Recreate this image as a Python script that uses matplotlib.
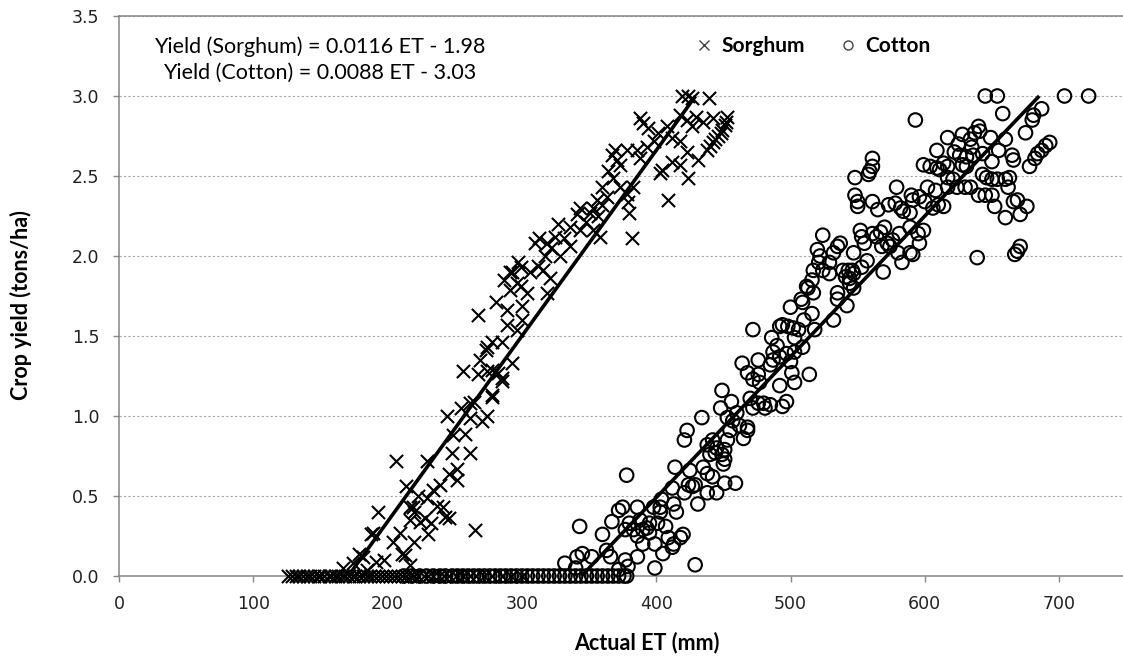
import numpy as np
import matplotlib
matplotlib.use('Agg')
import matplotlib.pyplot as plt
from matplotlib.lines import Line2D

# ---- data ----
# ET (mm) of sorghum plots with zero yield (dense band along the x axis)
sorghum_zero_et = [126, 129, 132, 134, 137, 140, 142, 145, 148, 150,
                   153, 156, 158, 161, 163, 166, 168, 171, 174, 176,
                   179, 182, 185, 187, 190, 193, 196, 199, 202, 205,
                   208, 211, 214, 217, 220, 223, 227, 230, 234, 238,
                   242, 246, 251, 256, 261, 266, 272, 278, 285, 292, 300]

sorghum_et = [206, 193, 214, 189, 209, 204, 211, 197, 179, 174,
              167, 219, 217, 188, 229, 244, 255, 264, 278, 274,
              270, 285, 258, 248, 261, 252, 246, 252, 239, 234,
              229, 237, 241, 223, 217, 220, 228, 243, 246, 232,
              224, 265, 230, 220, 213, 191, 182, 217, 185, 267,
              297, 291, 287, 296, 281, 289, 300, 289, 296, 278,
              274, 285, 269, 256, 267, 274, 282, 285, 293, 278,
              261, 261, 249, 419, 424, 427, 439, 418, 423, 430,
              435, 442, 427, 438, 440, 442, 444, 446, 448, 449,
              451, 452, 453, 390, 394, 401, 408, 412, 418, 423,
              431, 424, 418, 412, 404, 409, 403, 382, 380, 379,
              378, 383, 388, 386, 393, 398, 369, 367, 371, 373,
              378, 364, 368, 373, 360, 363, 356, 360, 353, 351,
              357, 343, 341, 348, 343, 353, 358, 336, 327, 331,
              336, 325, 319, 322, 317, 328, 313, 310, 312, 306,
              316, 321, 299, 293, 299, 304, 319, 291, 300, 273,
              278, 388]
sorghum_yield = [0.72, 0.40, 0.56, 0.27, 0.27, 0.21, 0.14, 0.10, 0.14, 0.08,
                 0.05, 0.43, 0.35, 0.26, 0.72, 1.00, 1.05, 1.09, 1.13, 1.00,
                 0.97, 1.22, 0.89, 0.77, 0.77, 0.67, 0.64, 0.60, 0.57, 0.54,
                 0.49, 0.44, 0.43, 0.50, 0.43, 0.40, 0.36, 0.37, 0.36, 0.33,
                 0.34, 0.29, 0.26, 0.21, 0.13, 0.09, 0.12, 0.07, 0.04, 1.63,
                 1.96, 1.90, 1.85, 1.83, 1.71, 1.66, 1.69, 1.57, 1.54, 1.46,
                 1.43, 1.46, 1.35, 1.28, 1.26, 1.28, 1.27, 1.24, 1.33, 1.12,
                 1.08, 0.99, 0.88, 3.00, 3.00, 2.99, 2.99, 2.88, 2.85, 2.87,
                 2.84, 2.86, 2.81, 2.66, 2.69, 2.71, 2.73, 2.75, 2.77, 2.79,
                 2.82, 2.84, 2.87, 2.83, 2.80, 2.77, 2.81, 2.74, 2.72, 2.65,
                 2.60, 2.49, 2.57, 2.59, 2.54, 2.35, 2.52, 2.11, 2.27, 2.34,
                 2.39, 2.43, 2.61, 2.66, 2.68, 2.72, 2.66, 2.63, 2.60, 2.57,
                 2.66, 2.53, 2.49, 2.43, 2.43, 2.37, 2.35, 2.32, 2.30, 2.27,
                 2.25, 2.30, 2.26, 2.21, 2.16, 2.16, 2.12, 2.18, 2.20, 2.11,
                 2.06, 2.12, 2.08, 2.05, 2.00, 2.00, 2.11, 2.08, 1.94, 1.90,
                 1.91, 1.86, 1.93, 1.90, 1.81, 1.77, 1.77, 1.79, 1.60, 1.41,
                 1.29, 2.86]

# ET (mm) of cotton plots with zero yield
cotton_zero_et = [212, 218, 224, 229, 234, 239, 243, 248, 252, 256,
                  260, 264, 268, 272, 276, 280, 284, 288, 292, 296,
                  300, 304, 308, 312, 316, 320, 324, 328, 332, 336,
                  340, 344, 348, 352, 356, 360, 364, 368, 372, 376, 378]

cotton_et = [645, 654, 704, 722, 593, 658, 687, 681, 680, 675,
             693, 690, 687, 684, 682, 678, 665, 666, 660, 655,
             649, 640, 641, 637, 634, 635, 628, 625, 617, 609,
             622, 626, 631, 636, 643, 650, 631, 628, 599, 604,
             609, 614, 617, 611, 561, 561, 559, 558, 548, 617,
             621, 643, 646, 650, 654, 660, 663, 662, 548, 550,
             550, 561, 565, 579, 573, 578, 582, 584, 589, 590,
             591, 596, 600, 606, 610, 614, 602, 608, 617, 624,
             630, 634, 640, 645, 650, 652, 660, 671, 676, 666,
             669, 639, 667, 671, 669, 552, 553, 555, 561, 564,
             567, 570, 572, 568, 574, 576, 580, 583, 589, 591,
             596, 595, 599, 589, 581, 569, 557, 553, 547, 524,
             520, 522, 521, 524, 529, 535, 532, 537, 529, 539,
             543, 546, 541, 544, 547, 517, 516, 512, 513, 517,
             535, 535, 542, 547, 544, 532, 500, 509, 508, 516,
             510, 492, 494, 498, 502, 506, 472, 486, 490, 487,
             503, 509, 503, 497, 492, 518, 500, 514, 378, 343,
             367, 360, 372, 375, 386, 332, 341, 345, 352, 340,
             363, 366, 377, 379, 386, 399, 429, 372, 377, 380,
             388, 390, 386, 395, 399, 403, 401, 393, 407, 409,
             413, 418, 420, 405, 412, 390, 383, 395, 398, 403,
             413, 415, 404, 412, 431, 421, 427, 429, 424, 438,
             445, 451, 459, 414, 425, 435, 438, 442, 440, 444,
             450, 451, 421, 423, 434, 438, 445, 442, 451, 449,
             448, 449, 456, 453, 457, 462, 468, 465, 455, 453,
             460, 468, 470, 476, 472, 480, 481, 485, 494, 497,
             464, 468, 472, 476, 477, 476, 485, 487, 492, 501, 503]
cotton_yield = [3.00, 3.00, 3.00, 3.00, 2.85, 2.89, 2.92, 2.88, 2.85, 2.77,
                2.71, 2.69, 2.66, 2.64, 2.61, 2.56, 2.63, 2.60, 2.73, 2.66,
                2.74, 2.81, 2.78, 2.77, 2.73, 2.68, 2.76, 2.70, 2.74, 2.66,
                2.65, 2.63, 2.62, 2.63, 2.64, 2.59, 2.56, 2.57, 2.57, 2.56,
                2.55, 2.58, 2.56, 2.54, 2.61, 2.56, 2.53, 2.51, 2.49, 2.49,
                2.48, 2.51, 2.49, 2.48, 2.48, 2.48, 2.49, 2.43, 2.38, 2.34,
                2.31, 2.34, 2.29, 2.43, 2.32, 2.33, 2.30, 2.28, 2.27, 2.38,
                2.35, 2.37, 2.34, 2.30, 2.32, 2.31, 2.43, 2.41, 2.43, 2.43,
                2.43, 2.43, 2.38, 2.38, 2.38, 2.31, 2.24, 2.26, 2.31, 2.34,
                2.35, 1.99, 2.01, 2.06, 2.03, 2.16, 2.12, 2.08, 2.14, 2.12,
                2.15, 2.18, 2.08, 2.06, 2.06, 2.10, 2.02, 1.96, 2.02, 2.01,
                2.08, 2.14, 2.16, 2.18, 2.14, 1.90, 1.97, 1.93, 2.02, 2.13,
                2.04, 2.00, 1.96, 1.91, 1.89, 2.06, 2.02, 2.08, 1.96, 1.91,
                1.91, 1.91, 1.87, 1.86, 1.89, 1.91, 1.85, 1.81, 1.80, 1.77,
                1.77, 1.73, 1.69, 1.80, 1.83, 1.60, 1.68, 1.71, 1.73, 1.64,
                1.60, 1.56, 1.57, 1.56, 1.55, 1.54, 1.54, 1.49, 1.44, 1.40,
                1.49, 1.43, 1.40, 1.39, 1.37, 1.54, 1.34, 1.26, 0.63, 0.31,
                0.34, 0.26, 0.41, 0.43, 0.43, 0.08, 0.12, 0.14, 0.12, 0.05,
                0.16, 0.12, 0.10, 0.06, 0.12, 0.05, 0.07, 0.04, 0.29, 0.33,
                0.35, 0.29, 0.25, 0.27, 0.20, 0.40, 0.33, 0.30, 0.31, 0.24,
                0.20, 0.24, 0.26, 0.14, 0.18, 0.20, 0.29, 0.33, 0.43, 0.43,
                0.45, 0.40, 0.48, 0.55, 0.45, 0.52, 0.56, 0.57, 0.57, 0.52,
                0.52, 0.58, 0.58, 0.68, 0.66, 0.68, 0.64, 0.62, 0.76, 0.77,
                0.70, 0.73, 0.85, 0.91, 0.99, 0.82, 0.80, 0.85, 0.79, 0.76,
                1.05, 1.16, 1.09, 0.99, 0.97, 0.94, 0.91, 0.86, 0.91, 0.85,
                1.02, 0.93, 1.11, 1.08, 1.05, 1.08, 1.05, 1.07, 1.06, 1.09,
                1.33, 1.27, 1.23, 1.26, 1.21, 1.35, 1.32, 1.35, 1.19, 1.27, 1.21]

# regression lines: slope, intercept (from the equations on the chart)
sorghum_fit = (0.0116, -1.98)
cotton_fit = (0.0088, -3.03)
fit_yield_range = [0.0, 3.0]

x_ticks = [0, 100, 200, 300, 400, 500, 600, 700]
y_ticks = [0.0, 0.5, 1.0, 1.5, 2.0, 2.5, 3.0, 3.5]

assert len(sorghum_et) == len(sorghum_yield)
assert len(cotton_et) == len(cotton_yield)

# ---- figure ----
W, H = 1123, 657
fig = plt.figure(figsize=(W / 100, H / 100), dpi=100)
ax = fig.add_axes([119 / W, 81 / H, (W - 119) / W, 560 / H])

gray = '#868686'
s_x = np.concatenate([sorghum_zero_et, sorghum_et])
s_y = np.concatenate([np.zeros(len(sorghum_zero_et)), sorghum_yield])
c_x = np.concatenate([cotton_zero_et, cotton_et])
c_y = np.concatenate([np.zeros(len(cotton_zero_et)), cotton_yield])

ax.scatter(c_x, c_y, marker='o', s=95, facecolors='none', edgecolors='black',
           linewidths=1.5, zorder=3, clip_on=False)
ax.scatter(s_x, s_y, marker='x', s=90, c='black', linewidths=1.5, zorder=3,
           clip_on=False)

for m, b in (sorghum_fit, cotton_fit):
    yy = np.array(fit_yield_range)
    xx = (yy - b) / m
    ax.plot(xx, m * xx + b, color='black', lw=2.6, zorder=4,
            solid_capstyle='butt')

ax.set_xlim(0, (W - 119) / 1.343)
ax.set_ylim(0, 3.5)
ax.set_xticks(x_ticks)
ax.set_yticks(y_ticks)
ax.set_xticklabels([str(v) for v in x_ticks])
ax.set_yticklabels(['%.1f' % v for v in y_ticks])

ax.yaxis.grid(True, linestyle=(0, (2, 2)), color='#a8a8a8', lw=0.8)
ax.set_axisbelow(True)
for side in ('left', 'bottom', 'top'):
    ax.spines[side].set_color(gray)
    ax.spines[side].set_linewidth(1.1)
ax.spines['right'].set_visible(False)
ax.tick_params(axis='both', direction='out', length=4, width=1, color=gray,
               labelsize=12.5, labelcolor='#222222', pad=10)

fig.text(647 / W, 1 - 643 / H, 'Actual ET (mm)', ha='center', va='center',
         family='Lato', fontweight='bold', fontsize=15.5)
fig.text(21 / W, 1 - 305 / H, 'Crop yield (tons/ha)', ha='center', va='center',
         rotation=90, family='Lato', fontweight='bold', fontsize=15.5)

fig.text(320 / W, 1 - 47 / H, 'Yield (Sorghum) = 0.0116 ET - 1.98',
         ha='center', va='center', family='Lato', fontsize=15.5)
fig.text(320 / W, 1 - 73 / H, 'Yield (Cotton) = 0.0088 ET - 3.03',
         ha='center', va='center', family='Lato', fontsize=15.5)

handles = [Line2D([], [], marker='x', ls='none', color='#444444', markersize=7, mew=1.0),
           Line2D([], [], marker='o', ls='none', mfc='none', mec='#444444', markersize=6.5, mew=1.0)]
fig.legend(handles, ['Sorghum', 'Cotton'], loc='center left',
           bbox_to_anchor=(694 / W, 1 - 46 / H), ncol=2, frameon=False,
           handlelength=1.0, handletextpad=0.3, columnspacing=1.6,
           borderpad=0, borderaxespad=0,
           prop={'family': 'Lato', 'weight': 'bold', 'size': 15})

fig.savefig('out.png', dpi=100)
